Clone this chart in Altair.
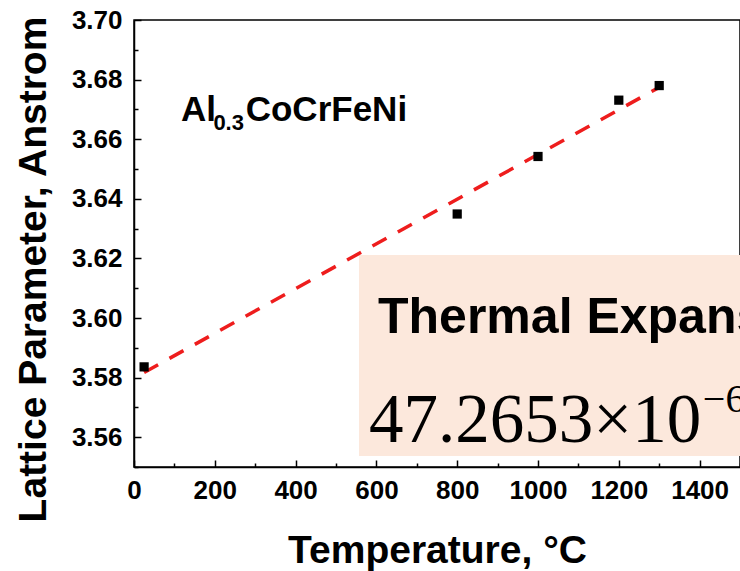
import altair as alt
import pandas as pd

# measured data
temps = [25, 800, 1000, 1200, 1300]
lattice = [3.5836, 3.6349, 3.6542, 3.6731, 3.6780]

x_major = [0, 200, 400, 600, 800, 1000, 1200, 1400]
x_minor = [100, 300, 500, 700, 900, 1100, 1300, 1500]
y_major = [3.56, 3.58, 3.60, 3.62, 3.64, 3.66, 3.68, 3.70]
y_minor = [3.55, 3.57, 3.59, 3.61, 3.63, 3.65, 3.67, 3.69]

# annotation box (in data units)
box_x = [557]
box_x2 = [1500]
box_y = [3.5537]
box_y2 = [3.6211]

# annotation texts (sans bold)
sans_text = ["Al", "0.3", "CoCrFeNi", "Thermal Expansion"]
sans_T = [116.3, 196.5, 276.5, 604]
sans_a = [3.6662, 3.6631, 3.6662, 3.5951]
sans_size = [35, 22, 35, 50]
# annotation texts (serif)
serif_text = ["47.2653×10", "−6"]
serif_T = [581.7, 1408]
serif_a = [3.5585, 3.5685]
serif_size = [69, 40]

pts = pd.DataFrame({"T": temps, "a": lattice})
boxdf = pd.DataFrame({"x": box_x, "x2": box_x2, "y": box_y, "y2": box_y2})
sansdf = pd.DataFrame({"text": sans_text, "T": sans_T, "a": sans_a, "size": sans_size})
serifdf = pd.DataFrame({"text": serif_text, "T": serif_T, "a": serif_a, "size": serif_size})

XD = [0, 1500]
YD = [3.55, 3.70]
xs = alt.Scale(domain=XD, nice=False, zero=False)
ys = alt.Scale(domain=YD, nice=False, zero=False)

LF = "Liberation Sans"

# layer 1: box + labelled axes
box = alt.Chart(boxdf).mark_rect(color="#fce8dc", clip=True).encode(
    x=alt.X("x:Q", scale=xs, axis=alt.Axis(
        orient="bottom", values=x_major, format="d", ticks=False, labelFontSize=26,
        labelFont=LF, labelFontWeight="bold", labelColor="black", labelPadding=10,
        labelFlush=False, labelOverlap=False, domainColor="black", domainWidth=1.5,
        grid=False, title="Temperature, °C", titleFont=LF, titleFontSize=39,
        titleFontWeight="bold", titleColor="black", titleBaseline="alphabetic",
        titleY=95)),
    x2="x2:Q",
    y=alt.Y("y:Q", scale=ys, axis=alt.Axis(
        orient="left", values=y_major, format=".2f", ticks=False, labelFontSize=26,
        labelFont=LF, labelFontWeight="bold", labelColor="black", labelPadding=12,
        labelFlush=False, labelOverlap=False, domainColor="black", domainWidth=1.5,
        grid=False, title="Lattice Parameter, Anstrom", titleFont=LF, titleFontSize=39,
        titleFontWeight="bold", titleColor="black", titleBaseline="alphabetic",
        titleX=-89, titleY=249)),
    y2="y2:Q",
)

# layer 2: regression line + major inward ticks
line = alt.Chart(pts).transform_regression("T", "a").mark_line(
    color="#ee1d1d", strokeWidth=3.5, strokeDash=[16, 13]).encode(
    x=alt.X("T:Q", scale=xs, axis=alt.Axis(
        orient="top", offset=-447, values=x_major, labels=False, domain=False,
        tickSize=7, tickWidth=1.5, tickColor="black", grid=False, title=None)),
    y=alt.Y("a:Q", scale=ys, axis=alt.Axis(
        orient="right", offset=-606, values=y_major, labels=False, domain=False,
        tickSize=7, tickWidth=1.5, tickColor="black", grid=False, title=None)),
)

# layer 3: points + minor inward ticks
points = alt.Chart(pts).mark_point(shape="square", filled=True, color="black",
                                   size=85, opacity=1).encode(
    x=alt.X("T:Q", scale=xs, axis=alt.Axis(
        orient="top", offset=-447, values=x_minor, labels=False, domain=False,
        tickSize=4, tickWidth=1.5, tickColor="black", grid=False, title=None)),
    y=alt.Y("a:Q", scale=ys, axis=alt.Axis(
        orient="right", offset=-606, values=y_minor, labels=False, domain=False,
        tickSize=4, tickWidth=1.5, tickColor="black", grid=False, title=None)),
)

# layer 4/5: annotation texts
sans = alt.Chart(sansdf).mark_text(align="left", baseline="alphabetic", color="black",
                                   font=LF, fontWeight="bold", clip=True).encode(
    x=alt.X("T:Q", scale=xs, axis=None),
    y=alt.Y("a:Q", scale=ys, axis=None),
    text="text:N",
    size=alt.Size("size:Q", scale=None, legend=None),
)
serif = alt.Chart(serifdf).mark_text(align="left", baseline="alphabetic", color="black",
                                     font="Liberation Serif", clip=True).encode(
    x=alt.X("T:Q", scale=xs, axis=None),
    y=alt.Y("a:Q", scale=ys, axis=None),
    text="text:N",
    size=alt.Size("size:Q", scale=None, legend=None),
)

chart = alt.layer(box, line, points, sans, serif).resolve_axis(
    x="independent", y="independent"
).properties(
    width=606, height=447,
    autosize=alt.AutoSizeParams(type="none"),
    padding={"left": 134, "top": 20, "right": 0, "bottom": 104},
    background="white",
).configure_view(stroke="black", strokeWidth=1.5)

chart.save("out.html", embed_options={"renderer": "svg", "actions": False})
